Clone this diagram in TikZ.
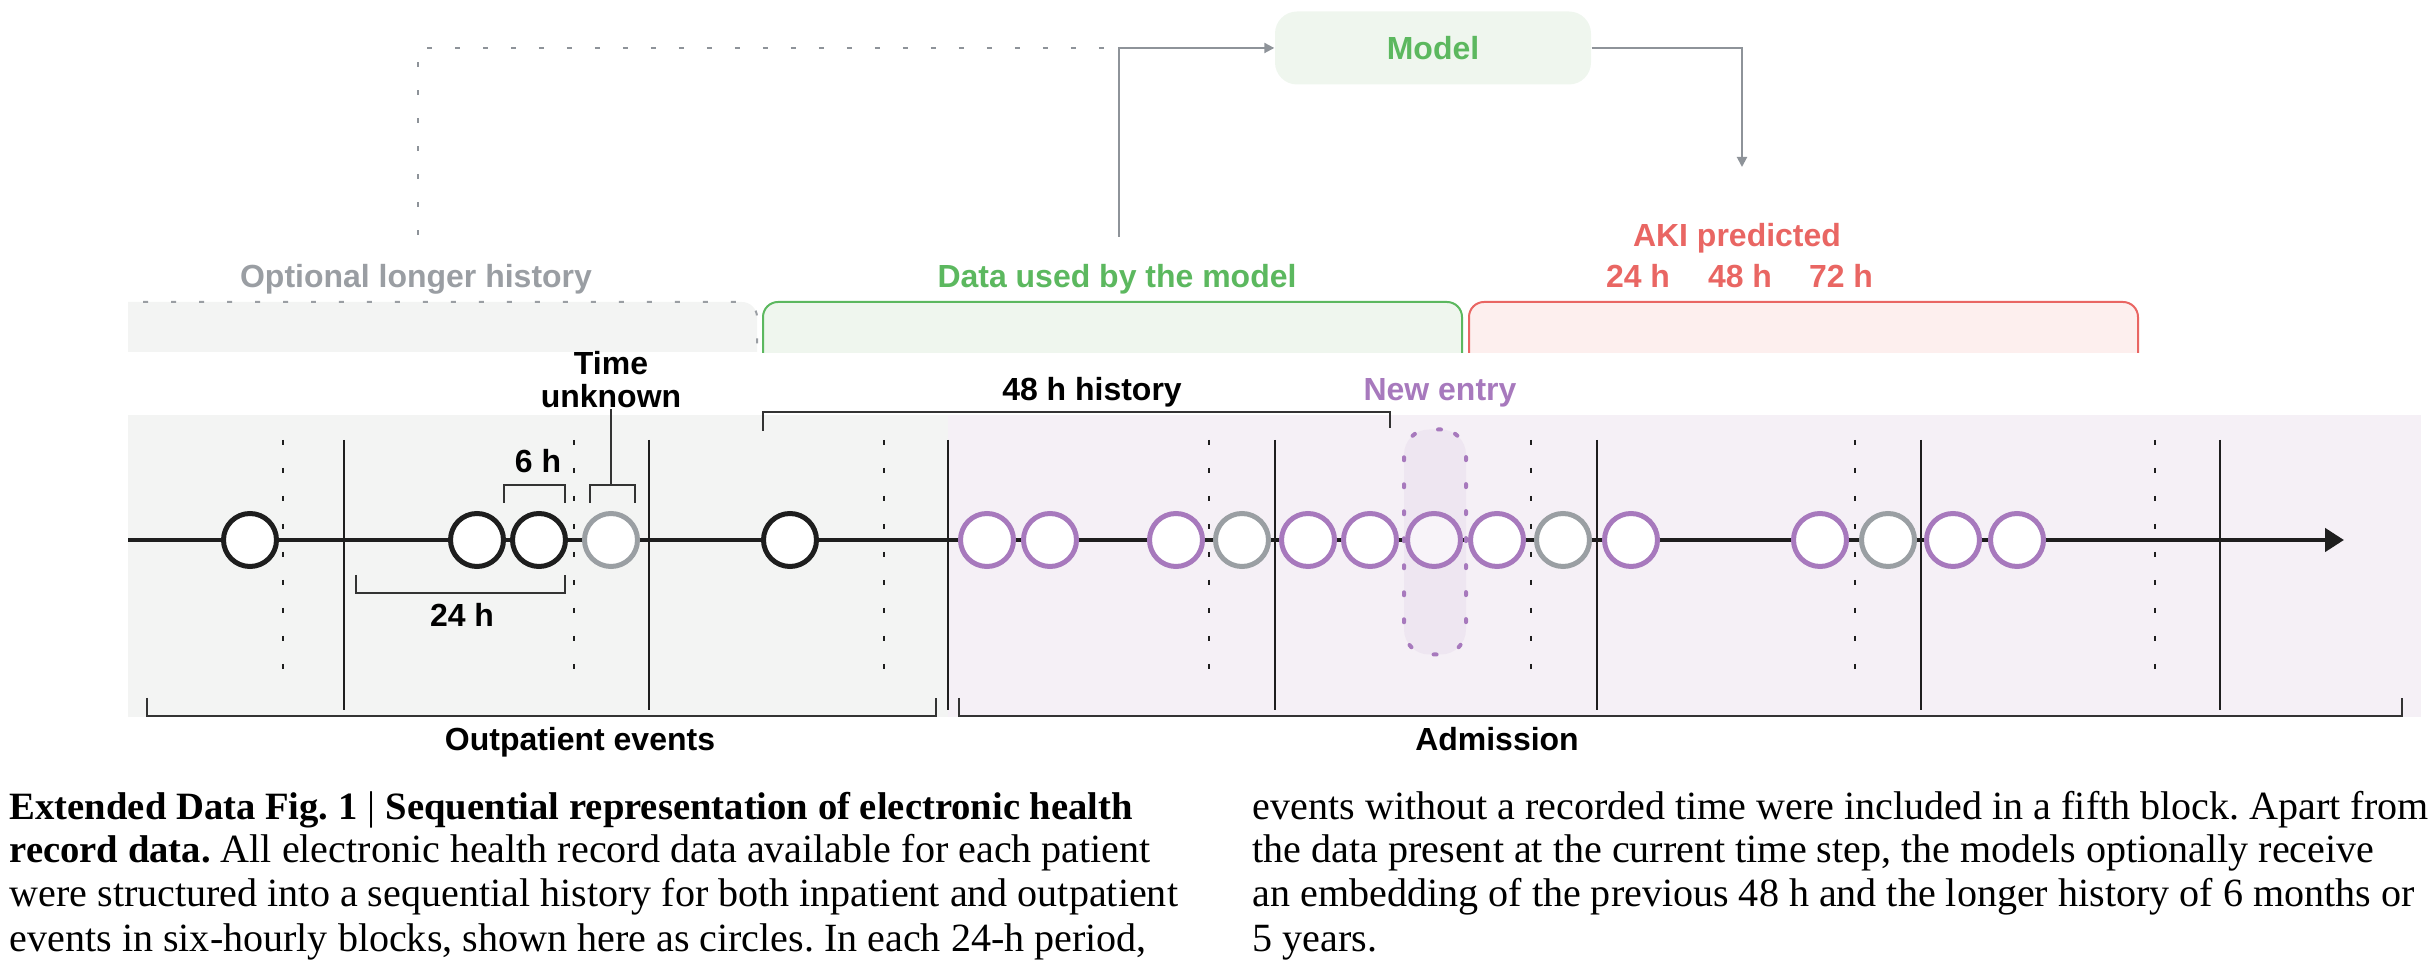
\documentclass[tikz,border=0pt]{standalone}
\usepackage{fontspec}
\setmainfont{Liberation Serif}
\setsansfont{Liberation Sans}
\usepackage{tikz}
\usetikzlibrary{arrows.meta, positioning}
\frenchspacing

\definecolor{optgray}{HTML}{9A9EA3}
\definecolor{optfill}{HTML}{F3F4F3}
\definecolor{datagreen}{HTML}{5CB85F}
\definecolor{datafill}{HTML}{EFF6EE}
\definecolor{akired}{HTML}{E96663}
\definecolor{akifill}{HTML}{FDEFEE}
\definecolor{entrypurple}{HTML}{A779BD}
\definecolor{admfill}{HTML}{F5F0F6}
\definecolor{linegray}{HTML}{8E9399}
\definecolor{evgray}{HTML}{9A9FA3}
\definecolor{inkblack}{HTML}{1E1E1E}
\definecolor{brkgray}{HTML}{333333}

\newcommand{\capbf}[1]{{\fontsize{11pt}{12.5pt}\selectfont\bfseries #1}}

\tikzset{
  lab/.style={font=\fontsize{9.1pt}{9.4pt}\selectfont\sffamily\bfseries, inner sep=0pt},
  capline/.style={font=\fontsize{11.4pt}{12.5pt}\selectfont, inner sep=0pt, anchor=base west},
  evt/.style={circle, draw=inkblack, fill=white, line width=0.5mm, minimum size=5.3mm, inner sep=0pt},
  admevt/.style={evt, draw=entrypurple},
  nodate/.style={evt, draw=evgray},
  daytick/.style={line width=0.2mm, draw=inkblack},
  qtick/.style={line width=0.25mm, draw=inkblack, dash pattern=on 0.5mm off 2.3mm},
  brk/.style={line width=0.2mm, draw=brkgray},
  flow/.style={line width=0.2mm, draw=linegray, -{Triangle[length=1mm,width=1mm]}},
  optflow/.style={line width=0.2mm, draw=linegray, dash pattern=on 0.5mm off 2.3mm},
  newbox/.style={draw=entrypurple, fill=entrypurple, fill opacity=0.08, line width=0.4mm,
    line cap=round, dash pattern=on 0.3mm off 2.4mm, rounded corners=2.5mm,
    minimum width=6.2mm, minimum height=22.5mm, inner sep=0pt},
}

\begin{document}
\begin{tikzpicture}[x=0.1mm, y=-0.1mm]
    \useasboundingbox (0,0) rectangle (2436,976);

    % timeline backgrounds
    \fill[optfill] (128,415) rectangle (948,717);
    \fill[admfill] (948,415) rectangle (2421,717);

    % history / data / prediction tabs
    \fill[optfill] (128,352) -- (128,302) -- (742,302) arc[start angle=90, end angle=0, radius=1.5mm] -- (757,352) -- cycle;
    \draw[optflow, draw=optgray] (143,302) -- (742,302) arc[start angle=90, end angle=0, radius=1.5mm] -- (757,352);
    \fill[datafill] (763,353) -- (763,317) arc[start angle=180, end angle=90, radius=1.5mm] -- (1447,302) arc[start angle=90, end angle=0, radius=1.5mm] -- (1462,353) -- cycle;
    \draw[datagreen, line width=0.2mm] (763,353) -- (763,317) arc[start angle=180, end angle=90, radius=1.5mm] -- (1447,302) arc[start angle=90, end angle=0, radius=1.5mm] -- (1462,353);
    \fill[akifill] (1469,353) -- (1469,317) arc[start angle=180, end angle=90, radius=1.5mm] -- (2123,302) arc[start angle=90, end angle=0, radius=1.5mm] -- (2138,353) -- cycle;
    \draw[akired, line width=0.2mm] (1469,353) -- (1469,317) arc[start angle=180, end angle=90, radius=1.5mm] -- (2123,302) arc[start angle=90, end angle=0, radius=1.5mm] -- (2138,353);

    \node[lab, text=optgray, anchor=base] (optlab) at (416,288) {Optional longer history};
    \node[lab, text=datagreen, anchor=base] (datalab) at (1117,288) {Data used by the model};
    \node[lab, text=akired, anchor=base] (akilab) at (1737,247) {AKI predicted};
    \node[lab, text=akired, anchor=base] (h24) at (1638,288) {24 h};
    \node[lab, text=akired, anchor=base] (h48) at (1740,288) {48 h};
    \node[lab, text=akired, anchor=base] (h72) at (1841,288) {72 h};

    % model and its inputs
    \node[lab, text=datagreen, fill=datafill, rounded corners=2.2mm, minimum width=31.6mm, minimum height=7.3mm] (model) at (1433,48) {Model};
    \coordinate (optin) at (418,235);
    \coordinate (join) at (1119,48);
    \coordinate (datain) at (1119,237);
    \coordinate (akiin) at (1742,167);
    \draw[optflow] (optin) |- (join);
    \draw[flow] (datain) |- (model.west);
    \draw[flow] (model.east) -| (akiin);

    % 24 h and 6 h ticks
    \foreach \x in {344,649,948,1275,1597,1921,2220}
        \draw[daytick] (\x,440) -- (\x,710);
    \foreach \x in {283,574,884,1209,1531,1855,2155}
        \draw[qtick] (\x,440) -- (\x,690);

    % time axis
    \coordinate (tstart) at (128,540);
    \coordinate (tend) at (2344,540);
    \draw[line width=0.45mm, inkblack, -{Triangle[length=1.9mm, width=2.3mm]}] (tstart) -- (tend);

    % outpatient events
    \node[evt] (o1) at (250,540) {};
    \node[evt] (o2) at (477,540) {};
    \node[evt] (o3) at (539,540) {};
    \node[nodate] (o4) at (611,540) {};
    \node[evt] (o5) at (790,540) {};

    % admission events
    \foreach \x/\n in {987/1,1050/2,1176/3,1308/5,1370/6,1434/7,1497/8,1631/10,1820/11,1953/13,2017/14}
        \node[admevt] (a\n) at (\x,540) {};
    \foreach \x/\n in {1242/4,1563/9,1888/12}
        \node[nodate] (a\n) at (\x,540) {};

    \node[newbox] (newent) at (1435,542) {};

    % brackets
    \draw[brk] (504,503) |- (565,485) -- (565,503);
    \draw[brk] (590,503) |- (635,485) -- (635,503);
    \draw[brk] (356,575) |- (565,593) -- (565,575);
    \draw[brk] (763,431) |- (1390,412) -- (1390,428);
    \draw[brk] (147,698) |- (936,716) -- (936,698);
    \draw[brk] (959,698) |- (2402,716) -- (2402,698);

    \node[lab, anchor=base] (sixh) at (538,473) {6 h};
    \node[lab, anchor=base] (dayh) at (462,627) {24 h};
    \node[lab, align=center, anchor=south] (tunk) at (611,409) {Time\\unknown};
    \coordinate (tubr) at (611,485);
    \draw[brk] (tubr) -- (tunk.south);
    \node[lab, anchor=base] (hist) at (1092,401) {48 h history};
    \node[lab, anchor=base, text=entrypurple] (newlab) at (1440,401) {New entry};
    \node[lab, anchor=base] (outlab) at (580,751) {Outpatient events};
    \node[lab, anchor=base] (admlab) at (1497,751) {Admission};

    % caption
    \node[capline] (capa1) at (9,820) {\capbf{Extended Data Fig. 1} | \capbf{Sequential representation of electronic health}};
    \node[capline] (capa2) at (9,863) {\capbf{record data.} All electronic health record data available for each patient};
    \node[capline] (capa3) at (9,907) {were structured into a sequential history for both inpatient and outpatient};
    \node[capline] (capa4) at (9,952) {events in six-hourly blocks, shown here as circles. In each 24-h period,};
    \node[capline] (capb1) at (1252,820) {events without a recorded time were included in a fifth block. Apart from};
    \node[capline] (capb2) at (1252,863) {the data present at the current time step, the models optionally receive};
    \node[capline] (capb3) at (1252,907) {an embedding of the previous 48 h and the longer history of 6 months or};
    \node[capline] (capb4) at (1252,952) {5 years.};
\end{tikzpicture}
\end{document}
